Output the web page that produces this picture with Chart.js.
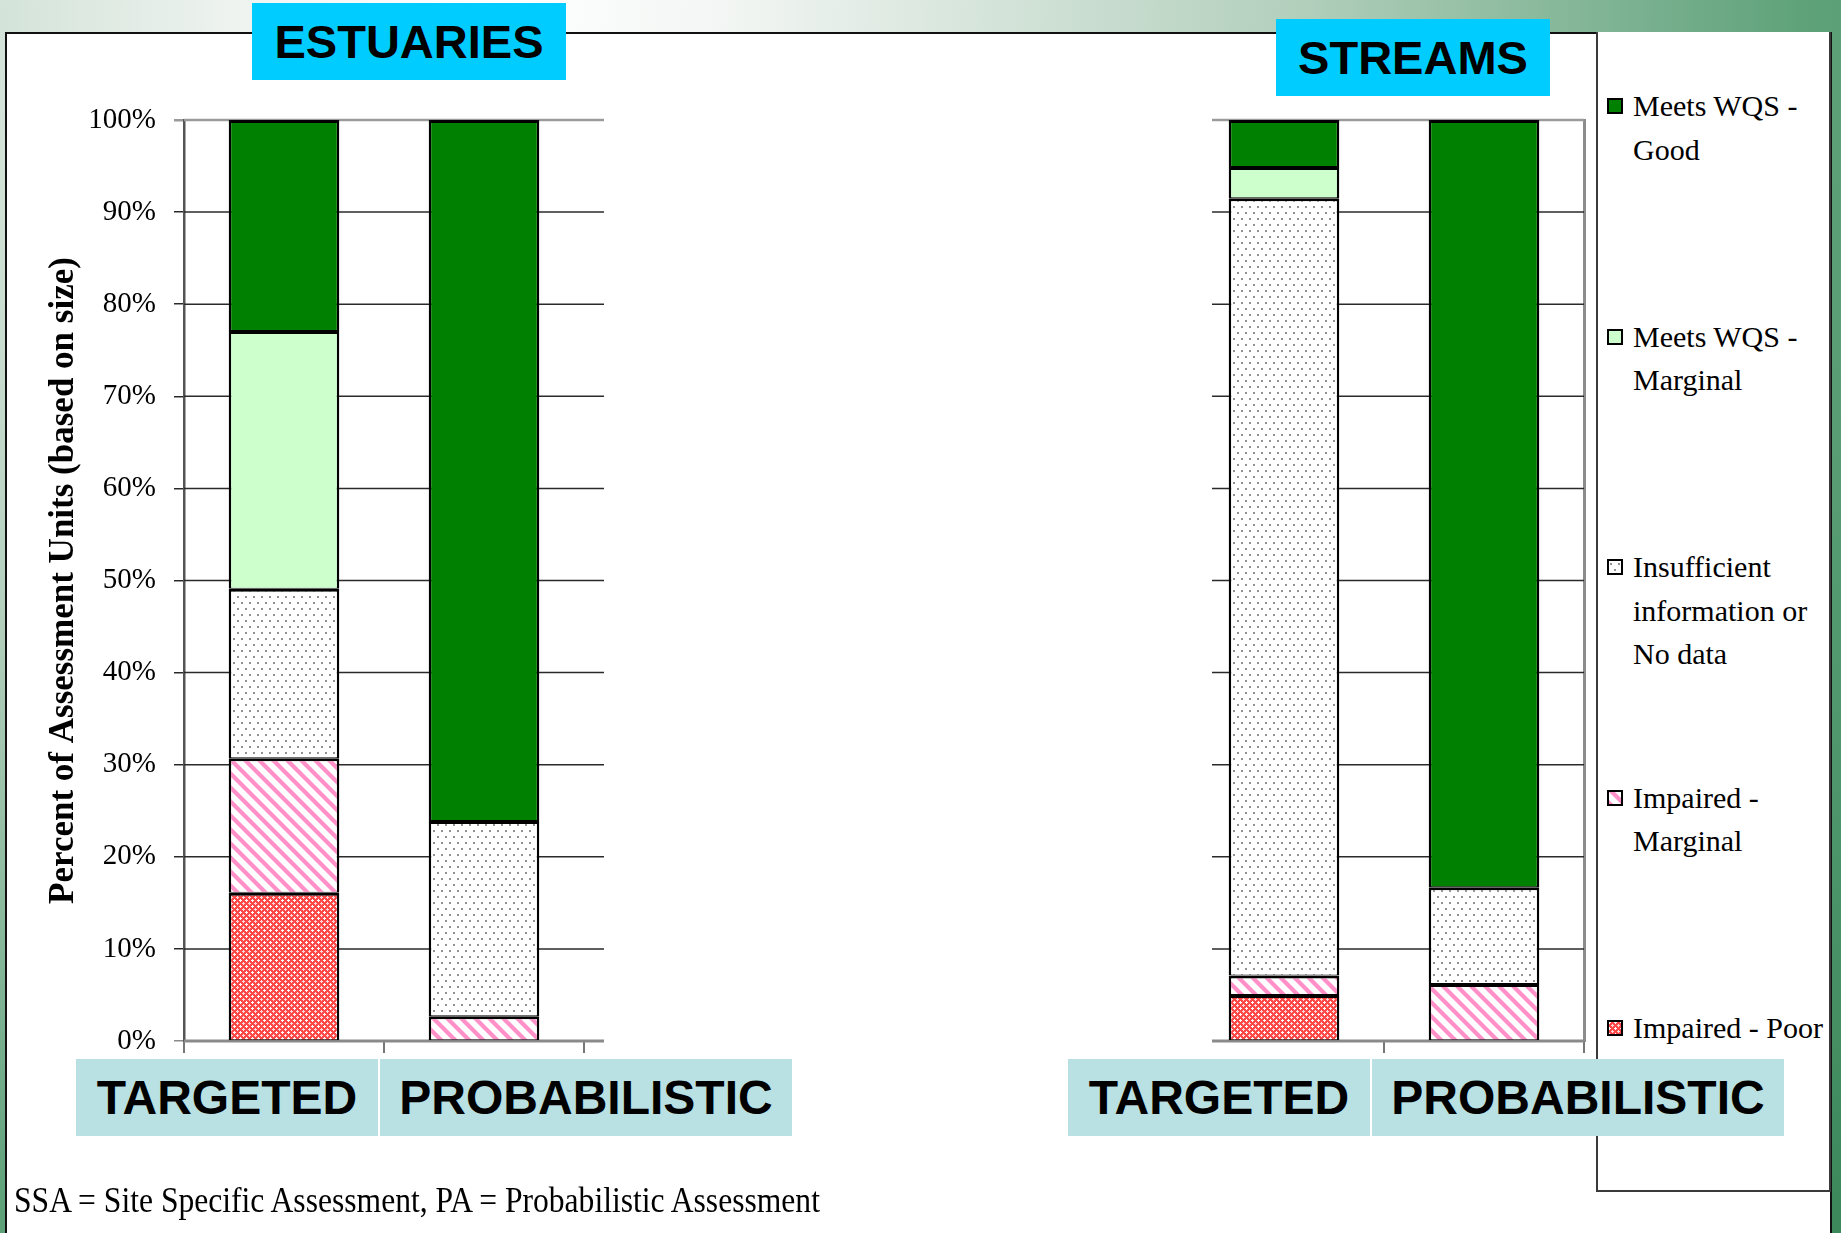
<!DOCTYPE html>
<html>
<head>
<meta charset="utf-8">
<title>Assessment Units by Category</title>
<script src="https://cdn.jsdelivr.net/npm/chart.js@4.4.1/dist/chart.umd.min.js"></script>
<style>
  html, body { margin: 0; padding: 0; }
  body {
    width: 1841px; height: 1233px; position: relative; overflow: hidden;
    background: radial-gradient(circle at 500px 0px, #ffffff 0px, #f3f6f4 220px, #b2cfbc 800px, #5fa27a 1300px, #3d895c 1800px);
  }
  #frame {
    position: absolute; left: 5px; top: 32px; width: 1823px; height: 1230px;
    background: #fff; border-top: 2px solid #111; border-left: 2px solid #111; border-right: 2px solid #111;
  }
  #legendBox {
    position: absolute; left: 1596px; top: 32px; width: 231px; height: 1158px;
    border: 2px solid #3a3a3a; border-top: none; background: #fff;
  }
  canvas { position: absolute; top: 0; }
  .heading {
    position: absolute; background: #00ccff; color: #000;
    font: bold 47px "Liberation Sans", Arial, sans-serif;
    display: flex; align-items: center; justify-content: center;
  }
  .cat {
    position: absolute; top: 1059px; height: 77px; background: #b9e0e3; color: #000;
    font: bold 48px "Liberation Sans", Arial, sans-serif;
    display: flex; align-items: center; justify-content: center; white-space: nowrap;
  }
  .lg-item { position: absolute; left: 1607px; }
  .lg-swatch {
    position: absolute; left: 0; width: 16px; height: 16px; box-sizing: border-box;
    border: 2px solid #000;
  }
  .lg-text {
    position: absolute; left: 26px; white-space: nowrap; color: #000;
    font: 30px "Liberation Serif", "Times New Roman", serif; line-height: 43.5px;
  }
  #footnote {
    position: absolute; left: 14px; top: 1183px; line-height: 36px; white-space: nowrap;
    font: 31.6px "Liberation Serif", "Times New Roman", serif; color: #000;
    transform: scaleY(1.12); transform-origin: left center;
  }
</style>
</head>
<body>
<div id="frame"></div>
<div id="legendBox"></div>
<canvas id="estuaries" width="620" height="1233" style="left:0px"></canvas>
<canvas id="streams" width="600" height="1233" style="left:1000px"></canvas>
<div class="heading" style="left:252px; top:3px; width:314px; height:77px;">ESTUARIES</div>
<div class="heading" style="left:1276px; top:19px; width:274px; height:77px;">STREAMS</div>
<div id="cats"></div>
<div id="legend"></div>
<div id="footnote">SSA = Site Specific Assessment, PA = Probabilistic Assessment</div>

<script>
// ---- data (percent of assessment units, based on size) ----
const categories = ['TARGETED', 'PROBABILISTIC'];
const seriesNames = [
  'Impaired - Poor',
  'Impaired - Marginal',
  'Insufficient information or No data',
  'Meets WQS - Marginal',
  'Meets WQS - Good'
];
// legend wording, one entry per line
const legendLines = [
  ['Impaired - Poor'],
  ['Impaired -', 'Marginal'],
  ['Insufficient', 'information or', 'No data'],
  ['Meets WQS -', 'Marginal'],
  ['Meets WQS -', 'Good']
];

const estuaryPoor        = [16.1, 0];
const estuaryImpMarginal = [14.6, 2.7];
const estuaryNoData      = [18.4, 21.2];
const estuaryMeetsMarg   = [28.0, 0];
const estuaryGood        = [22.9, 76.1];

const streamPoor        = [5.0, 0];
const streamImpMarginal = [2.1, 6.2];
const streamNoData      = [84.4, 10.5];
const streamMeetsMarg   = [3.4, 0];
const streamGood        = [5.1, 83.3];

const yTickValues = [0, 10, 20, 30, 40, 50, 60, 70, 80, 90, 100];
const yTitle = 'Percent of Assessment Units (based on size)';

// ---- fill patterns ----
function makeTile(w, h, paint) {
  const c = document.createElement('canvas');
  c.width = w; c.height = h;
  const g = c.getContext('2d');
  paint(g, w, h);
  return c;
}
function pixelTile(w, h, colorAt) {
  return makeTile(w, h, (g) => {
    const img = g.createImageData(w, h);
    for (let y = 0; y < h; y++) {
      for (let x = 0; x < w; x++) {
        const [r, gg, b] = colorAt(x, y);
        const i = (y * w + x) * 4;
        img.data[i] = r; img.data[i + 1] = gg; img.data[i + 2] = b; img.data[i + 3] = 255;
      }
    }
    g.putImageData(img, 0, 0);
  });
}

// red trellis for "Impaired - Poor"
const poorTile = pixelTile(6, 6, (x, y) => {
  const plusA = (x === 0 && (y === 0 || y === 1 || y === 5)) || (y === 0 && (x === 1 || x === 5));
  const plusB = (x === 3 && (y === 2 || y === 3 || y === 4)) || (y === 3 && (x === 2 || x === 4));
  if (plusA) return [255, 255, 255];
  if (plusB) return [255, 215, 215];
  return [255, 72, 72];
});
// pink diagonal stripes for "Impaired - Marginal"
const stripeTile = pixelTile(14, 14, (x, y) => {
  const d = ((x - y) % 14 + 14) % 14;
  if (d >= 1 && d <= 5) return [255, 145, 200];
  if (d === 0 || d === 6) return [255, 200, 228];
  return [255, 255, 255];
});
// sparse grey dots for "Insufficient information or No data"
const dotTile = makeTile(8, 12, (g) => {
  g.fillStyle = '#ffffff'; g.fillRect(0, 0, 8, 12);
  g.fillStyle = '#929292';
  g.fillRect(1, 2, 2, 2);
  g.fillRect(5, 8, 2, 2);
});

const patCtx = document.createElement('canvas').getContext('2d');
const fills = [
  patCtx.createPattern(poorTile, 'repeat'),
  patCtx.createPattern(stripeTile, 'repeat'),
  patCtx.createPattern(dotTile, 'repeat'),
  '#ccffcc',
  '#008000'
];
const swatchCss = [
  { bg: '#ff6060', img: poorTile.toDataURL() },
  { bg: '#ffffff', img: stripeTile.toDataURL() },
  { bg: '#ffffff', img: dotTile.toDataURL() },
  { bg: '#ccffcc', img: null },
  { bg: '#008000', img: null }
];

// Horizontal value gridlines and the baseline, drawn from the y scale so that
// they can start a little inside the plot or run a little past its right edge.
const spanGrid = {
  id: 'spanGrid',
  beforeDatasetsDraw(chart, args, opts) {
    const { ctx, chartArea } = chart;
    const y = chart.scales.y;
    const x0 = chartArea.left + (opts.startInset || 0);
    const x1 = chartArea.right + (opts.endOverhang || 0);
    ctx.save();
    y.ticks.forEach((t) => {
      const py = y.getPixelForValue(t.value);
      if (t.value === 0) {
        ctx.strokeStyle = '#8a8a8a'; ctx.lineWidth = 3;
      } else if (t.value === 100) {
        ctx.strokeStyle = '#9a9a9a'; ctx.lineWidth = 2.5;
      } else {
        ctx.strokeStyle = '#2a2a2a'; ctx.lineWidth = 1.5;
      }
      ctx.beginPath();
      ctx.moveTo(x0, py);
      ctx.lineTo(x1, py);
      ctx.stroke();
    });
    ctx.restore();
  }
};

// ---- charts ----
function buildDatasets(series) {
  return series.map((values, i) => ({
    label: seriesNames[i],
    data: values,
    backgroundColor: fills[i],
    borderColor: '#000',
    borderWidth: { top: 3, left: 2.5, right: 2.5, bottom: 1 },
    borderSkipped: false,
    barPercentage: 0.553,
    categoryPercentage: 1.0
  }));
}

function makeChart(canvasId, series, withAxisText, gridOpts, rightPad) {
  const scales = {
    x: {
      type: 'category',
      stacked: true,
      ticks: { display: false },
      grid: {
        display: true, drawOnChartArea: false, drawTicks: true, tickLength: 12, lineWidth: 2, offset: true,
        // the left-most category tick is only shown where the y axis is drawn
        color: (c) => (!withAxisText && c.index === 0) ? 'rgba(0,0,0,0)' : '#777'
      },
      border: { display: false },
      afterFit: (s) => { s.height = 192; }
    },
    y: {
      type: 'linear',
      stacked: true,
      min: 0, max: 100,
      afterBuildTicks: (s) => { s.ticks = yTickValues.map(v => ({ value: v })); },
      ticks: {
        display: withAxisText,
        padding: 18,
        color: '#000',
        font: { family: '"Liberation Serif", "Times New Roman", serif', size: 29 },
        callback: (v) => v + '%'
      },
      grid: {
        drawOnChartArea: false,
        drawTicks: withAxisText,
        tickLength: 10,
        color: (c) => (c.tick && c.tick.value === 100) ? '#9a9a9a' : (c.tick && c.tick.value === 0 ? '#8a8a8a' : '#2a2a2a'),
        lineWidth: (c) => (c.tick && c.tick.value === 100) ? 2.5 : 1.5
      },
      border: { display: withAxisText, color: '#555', width: 2.5 },
      title: {
        display: withAxisText,
        text: yTitle,
        color: '#000',
        padding: { top: 4, bottom: 4 },
        font: { family: '"Liberation Serif", "Times New Roman", serif', size: 35, weight: 'bold' }
      },
      afterFit: (s) => { s.width = 145; }
    }
  };
  if (!withAxisText) {
    // closing line on the right-hand side of the plot
    scales.yEdge = {
      type: 'linear', position: 'right', min: 0, max: 100,
      ticks: { display: false },
      grid: { display: false },
      border: { display: true, color: '#8c8c8c', width: 3 },
      afterFit: (s) => { s.width = 0; }
    };
  }
  return new Chart(document.getElementById(canvasId), {
    type: 'bar',
    data: { labels: categories, datasets: buildDatasets(series) },
    options: {
      responsive: false,
      animation: false,
      devicePixelRatio: 1,
      layout: { padding: { left: 39, top: 120, right: rightPad, bottom: 0 } },
      plugins: {
        legend: { display: false }, tooltip: { enabled: false }, title: { display: false },
        spanGrid: gridOpts
      },
      scales
    },
    plugins: [spanGrid]
  });
}

makeChart('estuaries', [estuaryPoor, estuaryImpMarginal, estuaryNoData, estuaryMeetsMarg, estuaryGood],
  true, { startInset: 0, endOverhang: 20 }, 36);
makeChart('streams', [streamPoor, streamImpMarginal, streamNoData, streamMeetsMarg, streamGood],
  false, { startInset: 28, endOverhang: 0 }, 16);

// ---- category banners under each chart ----
const catBoxes = [
  { left: 76, width: 302 }, { left: 380, width: 412 },
  { left: 1068, width: 302 }, { left: 1372, width: 412 }
];
const catHost = document.getElementById('cats');
catBoxes.forEach((b, i) => {
  const d = document.createElement('div');
  d.className = 'cat';
  d.style.left = b.left + 'px';
  d.style.width = b.width + 'px';
  d.textContent = categories[i % categories.length];
  catHost.appendChild(d);
});

// ---- shared legend, top entry first ----
const legendHost = document.getElementById('legend');
const legendOrder = [4, 3, 2, 1, 0];
legendOrder.forEach((si, row) => {
  const centerY = 106 + row * 230.5;
  const item = document.createElement('div');
  item.className = 'lg-item';
  item.style.top = (centerY - 21.75) + 'px';
  const sw = document.createElement('div');
  sw.className = 'lg-swatch';
  sw.style.top = (21.75 - 8) + 'px';
  sw.style.backgroundColor = swatchCss[si].bg;
  if (swatchCss[si].img) sw.style.backgroundImage = 'url(' + swatchCss[si].img + ')';
  const tx = document.createElement('div');
  tx.className = 'lg-text';
  tx.style.top = '0px';
  tx.innerHTML = legendLines[si].map(s => s.replace(/&/g, '&amp;').replace(/</g, '&lt;')).join('<br>');
  item.appendChild(sw);
  item.appendChild(tx);
  legendHost.appendChild(item);
});
</script>
</body>
</html>
